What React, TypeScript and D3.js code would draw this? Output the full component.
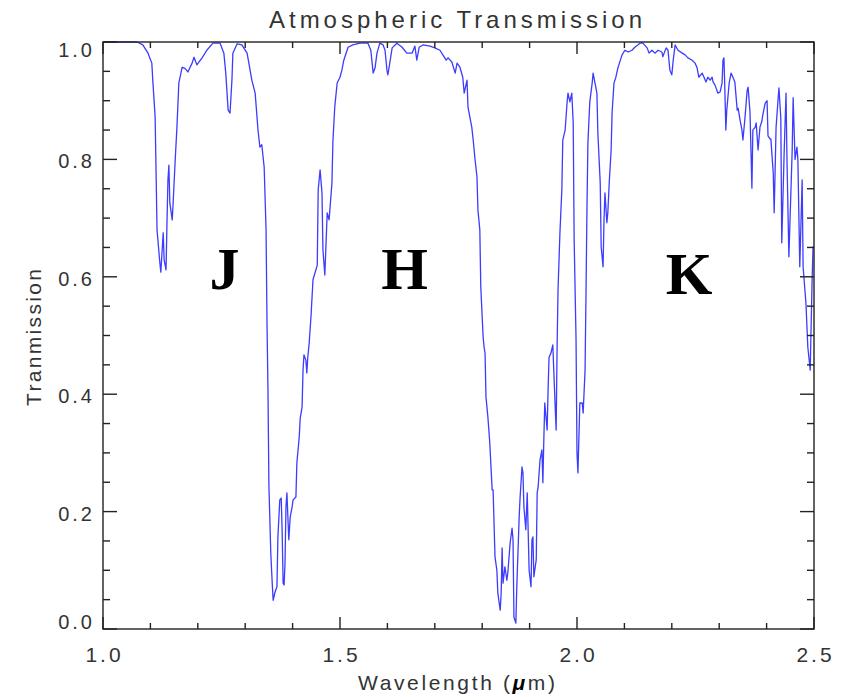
import React, { useEffect, useRef } from "react";
import * as d3 from "d3";

// Wavelength samples (µm) of the transmission spectrum
const wavelength: number[] = [
  1.000, 1.072, 1.084, 1.095, 1.103, 1.105, 1.110, 1.112, 1.114, 1.120, 1.122, 1.127, 1.129, 1.133,
  1.135, 1.137, 1.139, 1.141, 1.146, 1.148, 1.152, 1.156, 1.160, 1.167, 1.173, 1.179, 1.188, 1.192,
  1.198, 1.209, 1.219, 1.232, 1.247, 1.255, 1.259, 1.264, 1.268, 1.272, 1.274, 1.283, 1.293, 1.304,
  1.314, 1.321, 1.327, 1.331, 1.335, 1.340, 1.344, 1.346, 1.348, 1.350, 1.354, 1.357, 1.359, 1.363,
  1.367, 1.369, 1.373, 1.376, 1.378, 1.380, 1.382, 1.384, 1.386, 1.388, 1.392, 1.395, 1.399, 1.401,
  1.407, 1.409, 1.414, 1.416, 1.420, 1.422, 1.424, 1.428, 1.430, 1.432, 1.435, 1.439, 1.443, 1.452,
  1.454, 1.458, 1.462, 1.464, 1.468, 1.473, 1.477, 1.483, 1.485, 1.489, 1.494, 1.500, 1.504, 1.508,
  1.517, 1.527, 1.542, 1.559, 1.565, 1.570, 1.574, 1.578, 1.584, 1.591, 1.595, 1.599, 1.601, 1.605,
  1.610, 1.620, 1.631, 1.641, 1.652, 1.658, 1.662, 1.667, 1.675, 1.690, 1.700, 1.711, 1.717, 1.724,
  1.728, 1.736, 1.743, 1.747, 1.753, 1.759, 1.762, 1.768, 1.770, 1.774, 1.778, 1.781, 1.785, 1.789,
  1.791, 1.795, 1.797, 1.802, 1.804, 1.806, 1.808, 1.812, 1.816, 1.821, 1.823, 1.827, 1.831, 1.833,
  1.838, 1.840, 1.842, 1.844, 1.848, 1.852, 1.854, 1.859, 1.863, 1.865, 1.867, 1.871, 1.873, 1.878,
  1.880, 1.884, 1.886, 1.888, 1.892, 1.895, 1.899, 1.903, 1.905, 1.907, 1.909, 1.914, 1.916, 1.918,
  1.922, 1.926, 1.928, 1.930, 1.932, 1.937, 1.939, 1.941, 1.945, 1.949, 1.951, 1.954, 1.956, 1.958,
  1.960, 1.964, 1.968, 1.970, 1.975, 1.979, 1.981, 1.985, 1.989, 1.992, 1.994, 1.998, 2.000, 2.002,
  2.006, 2.011, 2.013, 2.017, 2.019, 2.021, 2.023, 2.027, 2.032, 2.034, 2.038, 2.042, 2.044, 2.049,
  2.051, 2.055, 2.057, 2.059, 2.063, 2.065, 2.068, 2.072, 2.074, 2.078, 2.082, 2.086, 2.095, 2.101,
  2.108, 2.116, 2.122, 2.133, 2.139, 2.148, 2.152, 2.158, 2.165, 2.171, 2.179, 2.181, 2.188, 2.192,
  2.196, 2.200, 2.203, 2.207, 2.213, 2.222, 2.228, 2.234, 2.243, 2.249, 2.253, 2.257, 2.264, 2.268,
  2.272, 2.276, 2.281, 2.285, 2.287, 2.291, 2.295, 2.297, 2.302, 2.306, 2.308, 2.310, 2.312, 2.314,
  2.316, 2.321, 2.325, 2.329, 2.333, 2.338, 2.340, 2.344, 2.348, 2.350, 2.354, 2.359, 2.361, 2.365,
  2.369, 2.371, 2.376, 2.378, 2.382, 2.386, 2.390, 2.392, 2.397, 2.401, 2.403, 2.407, 2.409, 2.414,
  2.416, 2.420, 2.426, 2.430, 2.432, 2.437, 2.441, 2.443, 2.447, 2.454, 2.456, 2.460, 2.464, 2.466,
  2.470, 2.475, 2.477, 2.483, 2.487, 2.492, 2.496, 2.498, 2.500,
];

// Fractional transmission at each wavelength sample
const transmission: number[] = [
  1.000, 1.000, 0.995, 0.981, 0.964, 0.935, 0.872, 0.777, 0.680, 0.623, 0.608, 0.675, 0.629, 0.612,
  0.692, 0.765, 0.790, 0.726, 0.697, 0.726, 0.794, 0.855, 0.930, 0.957, 0.955, 0.949, 0.964, 0.974,
  0.961, 0.973, 0.986, 0.998, 0.998, 0.981, 0.947, 0.884, 0.879, 0.935, 0.981, 0.997, 0.995, 0.981,
  0.935, 0.913, 0.850, 0.821, 0.825, 0.787, 0.680, 0.521, 0.411, 0.245, 0.129, 0.078, 0.049, 0.063,
  0.072, 0.157, 0.220, 0.223, 0.164, 0.078, 0.075, 0.112, 0.208, 0.232, 0.152, 0.191, 0.208, 0.220,
  0.225, 0.283, 0.327, 0.359, 0.378, 0.441, 0.467, 0.458, 0.436, 0.463, 0.487, 0.535, 0.595, 0.620,
  0.748, 0.782, 0.743, 0.646, 0.603, 0.709, 0.697, 0.760, 0.830, 0.890, 0.930, 0.940, 0.952, 0.969,
  0.991, 0.995, 0.998, 0.998, 0.986, 0.947, 0.956, 0.981, 0.998, 0.995, 0.986, 0.952, 0.944, 0.964,
  0.990, 0.998, 0.991, 0.981, 0.981, 0.993, 0.969, 0.991, 0.995, 0.993, 0.990, 0.986, 0.978, 0.969,
  0.973, 0.966, 0.947, 0.964, 0.957, 0.940, 0.913, 0.935, 0.889, 0.872, 0.855, 0.833, 0.799, 0.770,
  0.714, 0.680, 0.583, 0.497, 0.480, 0.470, 0.395, 0.361, 0.317, 0.237, 0.237, 0.123, 0.100, 0.061,
  0.032, 0.061, 0.138, 0.078, 0.106, 0.083, 0.095, 0.147, 0.172, 0.152, 0.020, 0.010, 0.072, 0.191,
  0.225, 0.276, 0.266, 0.208, 0.169, 0.232, 0.100, 0.072, 0.152, 0.157, 0.089, 0.118, 0.232, 0.242,
  0.288, 0.305, 0.249, 0.322, 0.385, 0.339, 0.407, 0.463, 0.470, 0.484, 0.441, 0.378, 0.339, 0.480,
  0.578, 0.675, 0.748, 0.833, 0.850, 0.896, 0.913, 0.898, 0.913, 0.862, 0.663, 0.492, 0.300, 0.266,
  0.385, 0.385, 0.368, 0.441, 0.572, 0.714, 0.828, 0.898, 0.930, 0.947, 0.930, 0.913, 0.845, 0.760,
  0.651, 0.617, 0.697, 0.743, 0.692, 0.709, 0.760, 0.816, 0.879, 0.930, 0.940, 0.955, 0.978, 0.986,
  0.983, 0.986, 0.991, 0.998, 0.998, 0.990, 0.981, 0.986, 0.981, 0.986, 0.983, 0.975, 0.990, 0.986,
  0.952, 0.944, 0.969, 0.995, 0.986, 0.981, 0.978, 0.973, 0.969, 0.964, 0.957, 0.940, 0.947, 0.940,
  0.932, 0.940, 0.935, 0.940, 0.932, 0.927, 0.918, 0.913, 0.915, 0.930, 0.969, 0.973, 0.918, 0.850,
  0.884, 0.930, 0.947, 0.940, 0.932, 0.884, 0.887, 0.867, 0.850, 0.833, 0.867, 0.918, 0.923, 0.880,
  0.751, 0.850, 0.855, 0.862, 0.816, 0.855, 0.865, 0.876, 0.896, 0.900, 0.840, 0.835, 0.835, 0.777,
  0.709, 0.855, 0.922, 0.870, 0.658, 0.811, 0.913, 0.800, 0.634, 0.816, 0.905, 0.800, 0.821, 0.800,
  0.617, 0.765, 0.617, 0.555, 0.480, 0.441, 0.594, 0.651, 0.651,
];

// Axis tick values and labels
const xMajorTicks: number[] = [1.0, 1.5, 2.0, 2.5];
const xTickLabels: string[] = ["1.0", "1.5", "2.0", "2.5"];
const yMajorTicks: number[] = [0.0, 0.2, 0.4, 0.6, 0.8, 1.0];
const yTickLabels: string[] = ["0.0", "0.2", "0.4", "0.6", "0.8", "1.0"];

// Band names shown inside the plot
const bandNames: string[] = ["J", "H", "K"];
const bandCenters: number[] = [1.25, 1.63, 2.23];
const bandLevels: number[] = [0.58, 0.58, 0.57];

const W = 850;
const H = 697;
const M = { left: 103, right: 36, top: 42, bottom: 68 };
const AXIS = "#222";
const TEXT = "#333";
const LINE = "#3c3cff";
const FONT = "'Liberation Sans', Arial, sans-serif";

export default function App() {
  const ref = useRef<SVGSVGElement | null>(null);

  useEffect(() => {
    const svg = d3.select(ref.current);
    svg.selectAll("*").remove();

    const x = d3.scaleLinear().domain([1.0, 2.5]).range([M.left, W - M.right]);
    const y = d3.scaleLinear().domain([0, 1]).range([H - M.bottom, M.top]);
    const x0 = x(1.0), x1 = x(2.5), y0 = y(0), y1 = y(1);

    const data = wavelength.map((w, i) => [w, transmission[i]] as [number, number]);

    // spectrum
    svg.append("path")
      .datum(data)
      .attr("fill", "none")
      .attr("stroke", LINE)
      .attr("stroke-width", 1.3)
      .attr("stroke-linejoin", "round")
      .attr("d", d3.line<[number, number]>().x(d => x(d[0])).y(d => y(d[1])));

    // frame
    const g = svg.append("g").attr("stroke", AXIS).attr("stroke-width", 1.4).attr("fill", "none");
    g.append("rect").attr("x", x0).attr("y", y1).attr("width", x1 - x0).attr("height", y0 - y1);

    // x ticks: major every 0.5, minor every 0.1 (bottom and top, inward)
    const xMinor = d3.range(0, 16).map(i => 1.0 + i * 0.1);
    xMinor.forEach(v => {
      const isMajor = xMajorTicks.some(m => Math.abs(m - v) < 1e-6);
      const len = isMajor ? 12 : 6;
      const px = x(v);
      g.append("line").attr("x1", px).attr("x2", px).attr("y1", y0).attr("y2", y0 - len);
      g.append("line").attr("x1", px).attr("x2", px).attr("y1", y1).attr("y2", y1 + len);
    });

    // y ticks: major every 0.2, minor every 0.05 (left and right, inward)
    const yMinor = d3.range(0, 21).map(i => i * 0.05);
    yMinor.forEach(v => {
      const isMajor = yMajorTicks.some(m => Math.abs(m - v) < 1e-6);
      const len = isMajor ? 14 : 7;
      const py = y(v);
      g.append("line").attr("x1", x0).attr("x2", x0 + len).attr("y1", py).attr("y2", py);
      g.append("line").attr("x1", x1).attr("x2", x1 - len).attr("y1", py).attr("y2", py);
    });

    const txt = svg.append("g").attr("font-family", FONT).attr("fill", TEXT);

    // x tick labels
    xMajorTicks.forEach((v, i) => {
      txt.append("text")
        .attr("x", x(v) + 1.5).attr("y", y0 + 33)
        .attr("text-anchor", "middle")
        .attr("font-size", 21).attr("letter-spacing", 3)
        .text(xTickLabels[i]);
    });

    // y tick labels (end labels nudged inside the frame)
    yMajorTicks.forEach((v, i) => {
      const nudge = v === 1 ? 8 : v === 0 ? -7 : 2;
      txt.append("text")
        .attr("x", x0 - 8).attr("y", y(v) + nudge)
        .attr("dy", "0.35em")
        .attr("text-anchor", "end")
        .attr("font-size", 20).attr("letter-spacing", 3)
        .text(yTickLabels[i]);
    });

    // title
    txt.append("text")
      .attr("x", 269).attr("y", 28)
      .attr("font-size", 24)
      .attr("textLength", 373).attr("lengthAdjust", "spacing")
      .text("Atmospheric Transmission");

    // x axis title
    const xt = txt.append("text")
      .attr("x", 358).attr("y", 690)
      .attr("font-size", 21)
      .attr("textLength", 197).attr("lengthAdjust", "spacing");
    xt.append("tspan").text("Wavelength (");
    xt.append("tspan").attr("font-style", "italic").attr("font-weight", "bold").attr("fill", "#000").text("\u03bc");
    xt.append("tspan").text("m)");

    // y axis title
    txt.append("text")
      .attr("transform", `translate(41, ${(y0 + y1) / 2 + 2}) rotate(-90)`)
      .attr("text-anchor", "middle")
      .attr("font-size", 21)
      .attr("textLength", 137).attr("lengthAdjust", "spacing")
      .text("Tranmission");

    // band labels
    bandNames.forEach((b, i) => {
      svg.append("text")
        .attr("x", x(bandCenters[i]) + 3).attr("y", y(bandLevels[i]))
        .attr("text-anchor", "middle")
        .attr("font-family", "'Liberation Serif', 'DejaVu Serif', serif")
        .attr("font-weight", "bold")
        .attr("font-size", 60)
        .attr("fill", "#000")
        .text(b);
    });
  }, []);

  return (
    <svg
      ref={ref}
      width={W}
      height={H}
      style={{ position: "absolute", left: 0, top: 0, background: "#fff" }}
    />
  );
}
